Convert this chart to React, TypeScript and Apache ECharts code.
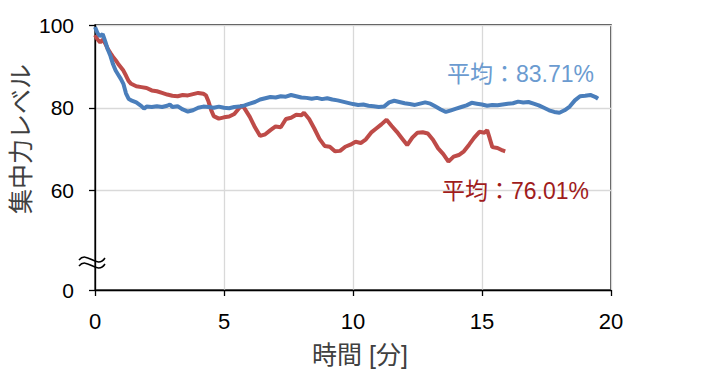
import React, { useEffect, useRef } from "react";
import * as echarts from "echarts";

const blueSeries: [number, number][] = [
  [0, 99.5], [0.1, 98], [0.2, 97.3], [0.3, 97.8], [0.4, 96], [0.5, 94], [0.6, 92.5], [0.7, 90.5],
  [0.8, 89], [0.9, 88], [1.0, 87], [1.1, 85.8], [1.2, 83.5], [1.3, 82.2], [1.4, 81.8], [1.6, 81.3],
  [1.8, 80.4], [1.9, 79.8], [2.0, 80.3], [2.2, 80.2], [2.4, 80.4], [2.6, 80.2], [2.8, 80.5], [2.9, 80.8],
  [3.0, 80.2], [3.2, 80.4], [3.4, 79.6], [3.6, 79.1], [3.8, 79.4], [4.0, 80.0], [4.2, 80.3], [4.4, 80.2],
  [4.6, 80.0], [4.8, 80.3], [5.0, 80.0], [5.2, 79.9], [5.4, 80.2], [5.6, 80.3], [5.8, 80.6], [6.0, 81.0],
  [6.2, 81.4], [6.4, 82.0], [6.6, 82.3], [6.8, 82.6], [7.0, 82.5], [7.2, 82.8], [7.4, 82.7], [7.6, 83.1],
  [7.8, 82.8], [8.0, 82.5], [8.2, 82.4], [8.4, 82.2], [8.6, 82.4], [8.8, 82.1], [9.0, 82.3], [9.2, 82.0],
  [9.4, 81.8], [9.6, 81.5], [9.8, 81.2], [10.0, 80.9], [10.2, 80.7], [10.4, 80.8], [10.6, 80.5], [10.8, 80.4],
  [11.0, 80.2], [11.2, 80.3], [11.4, 81.3], [11.6, 81.7], [11.8, 81.4], [12.0, 81.1], [12.2, 80.9], [12.4, 80.7],
  [12.6, 81.0], [12.8, 81.3], [13.0, 81.0], [13.2, 80.3], [13.4, 79.6], [13.6, 79.0], [13.8, 79.4], [14.0, 79.8],
  [14.2, 80.2], [14.4, 80.6], [14.6, 81.2], [14.8, 81.0], [15.0, 80.8], [15.2, 80.5], [15.4, 80.7], [15.6, 80.6],
  [15.8, 80.8], [16.0, 81.0], [16.2, 81.1], [16.4, 81.5], [16.6, 81.3], [16.8, 81.4], [17.0, 81.0], [17.2, 80.6],
  [17.4, 80.0], [17.6, 79.4], [17.8, 79.0], [18.0, 78.8], [18.2, 79.4], [18.4, 80.3], [18.6, 81.8], [18.8, 82.8],
  [19.0, 82.9], [19.2, 83.1], [19.4, 82.6], [19.5, 82.2],
];

const redSeries: [number, number][] = [
  [0, 97.6], [0.1, 96.5], [0.2, 95.8], [0.3, 96.5], [0.4, 95.5], [0.5, 94.2], [0.6, 93.2], [0.7, 92.3],
  [0.8, 91.5], [0.9, 90.6], [1.0, 89.8], [1.1, 89.0], [1.2, 87.8], [1.3, 86.5], [1.4, 85.8], [1.6, 85.2],
  [1.8, 85.0], [2.0, 84.8], [2.2, 84.2], [2.4, 84.0], [2.6, 83.6], [2.8, 83.2], [3.0, 82.9], [3.2, 82.8],
  [3.4, 83.1], [3.6, 83.0], [3.8, 83.3], [4.0, 83.6], [4.2, 83.4], [4.3, 83.0], [4.4, 81.5], [4.5, 79.5],
  [4.6, 78.0], [4.8, 77.4], [5.0, 77.7], [5.2, 77.9], [5.4, 78.5], [5.6, 80.0], [5.7, 80.6], [5.8, 79.8],
  [6.0, 77.8], [6.2, 75.3], [6.4, 73.2], [6.6, 73.6], [6.8, 74.6], [7.0, 75.5], [7.2, 75.3], [7.4, 77.3],
  [7.6, 77.6], [7.8, 78.3], [8.0, 78.2], [8.1, 78.8], [8.3, 77.3], [8.5, 75.0], [8.7, 72.5], [8.9, 70.8],
  [9.1, 70.6], [9.3, 69.5], [9.5, 69.6], [9.7, 70.6], [9.9, 71.1], [10.1, 71.8], [10.3, 71.5], [10.5, 72.4],
  [10.7, 74.0], [10.9, 75.0], [11.1, 76.0], [11.3, 77.1], [11.5, 75.6], [11.7, 74.2], [11.9, 72.6], [12.1, 71.0],
  [12.3, 72.8], [12.5, 74.0], [12.7, 74.1], [12.9, 73.8], [13.1, 72.3], [13.3, 70.2], [13.5, 68.8], [13.7, 67.0],
  [13.9, 68.2], [14.1, 68.6], [14.3, 69.5], [14.5, 71.1], [14.7, 72.8], [14.9, 74.2], [15.1, 74.0], [15.2, 74.6],
  [15.3, 72.6], [15.4, 70.5], [15.6, 70.3], [15.8, 69.7], [15.9, 69.5],
];

const yTickValues = [36, 60, 80, 100];
const yTickLabels = ["0", "60", "80", "100"];
const blueLabel = "平均：83.71%";
const redLabel = "平均：76.01%";
const xAxisName = "時間 [分]";
const yAxisName = "集中力レベル";

const FONT = "'Liberation Sans', 'Noto Sans CJK JP', sans-serif";

export default function App() {
  const ref = useRef<HTMLDivElement>(null);
  useEffect(() => {
    if (!ref.current) return;
    const chart = echarts.init(ref.current, null, { renderer: "svg" });
    chart.setOption({
      animation: false,
      backgroundColor: "#fff",
      grid: {
        left: 95,
        right: 94,
        top: 25,
        bottom: 101,
        show: true,
        borderColor: "#000",
        borderWidth: 1.3,
        containLabel: false,
        outerBoundsMode: "none",
      },
      xAxis: {
        type: "value",
        min: 0,
        max: 20,
        interval: 5,
        name: xAxisName,
        nameLocation: "middle",
        nameGap: 52,
        nameTextStyle: { fontFamily: FONT, fontSize: 25, color: "#404040", padding: [0, 0, 0, 14] },
        axisLine: { show: true, onZero: false, lineStyle: { color: "#000", width: 1.3 } },
        axisTick: { show: true, inside: false, length: 6, lineStyle: { color: "#000", width: 1.3 } },
        axisLabel: { fontFamily: FONT, fontSize: 22, color: "#000", margin: 20 },
        splitLine: { show: true, lineStyle: { color: "#d9d9d9", width: 1.3 } },
      },
      yAxis: {
        type: "value",
        min: 36,
        max: 100,
        axisLine: { show: true, lineStyle: { color: "#000", width: 1.3 } },
        axisTick: { show: true, inside: false, length: 6, customValues: yTickValues, lineStyle: { color: "#000", width: 1.3 } },
        axisLabel: {
          fontFamily: FONT,
          fontSize: 21,
          color: "#000",
          margin: 21,
          customValues: yTickValues,
          formatter: (v: number) => {
            const i = yTickValues.indexOf(v);
            return i >= 0 ? yTickLabels[i] : "";
          },
        },
        splitLine: { show: true, lineStyle: { color: "#d9d9d9", width: 1.3 } },
      },
      series: [
        {
          type: "line",
          data: blueSeries,
          showSymbol: false,
          lineStyle: { color: "#4a7ebb", width: 4 },
          itemStyle: { color: "#4a7ebb" },
          z: 3,
        },
        {
          type: "line",
          data: redSeries,
          showSymbol: false,
          lineStyle: { color: "#be4b48", width: 4 },
          itemStyle: { color: "#be4b48" },
          z: 2,
        },
      ],
      graphic: [
        {
          type: "text",
          x: 21,
          y: 139,
          rotation: Math.PI / 2,
          style: {
            text: yAxisName,
            font: `25px ${FONT}`,
            fill: "#404040",
            align: "center",
            verticalAlign: "middle",
          },
          z: 10,
        },
        {
          type: "text",
          left: 447,
          top: 62,
          style: { text: blueLabel, font: `23px ${FONT}`, fill: "#6b9bd0" },
          z: 10,
        },
        {
          type: "text",
          left: 442,
          top: 179,
          style: { text: redLabel, font: `23px ${FONT}`, fill: "#a01c1c" },
          z: 10,
        },
        {
          type: "bezierCurve",
          shape: { x1: 79, y1: 260, cpx1: 87, cpy1: 250, cpx2: 97, cpy2: 270, x2: 105, y2: 258 },
          style: { stroke: "#000", lineWidth: 1.5, fill: "none" },
          z: 10,
        },
        {
          type: "bezierCurve",
          shape: { x1: 79, y1: 266, cpx1: 87, cpy1: 256, cpx2: 97, cpy2: 276, x2: 105, y2: 264 },
          style: { stroke: "#000", lineWidth: 1.5, fill: "none" },
          z: 10,
        },
      ],
    });
    return () => chart.dispose();
  }, []);
  return (
    <div
      ref={ref}
      style={{ position: "fixed", left: 0, top: 0, width: 705, height: 391, background: "#fff" }}
    />
  );
}
